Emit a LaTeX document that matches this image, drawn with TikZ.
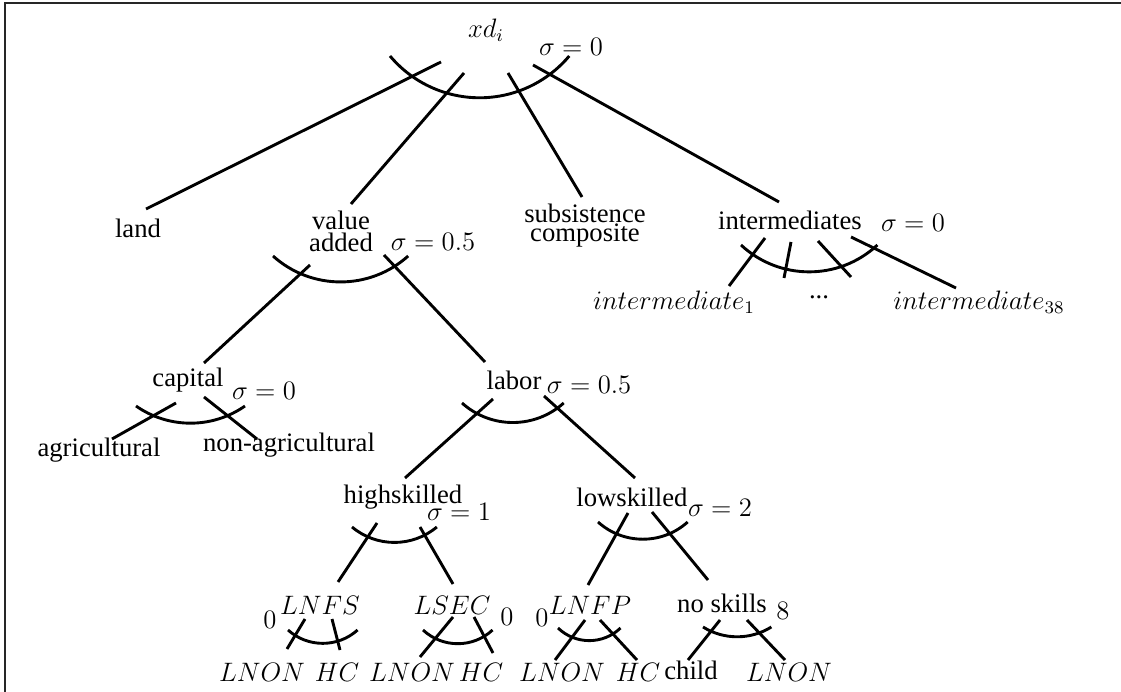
\documentclass[tikz,border=0pt,12pt]{standalone}
\usepackage{fontspec}
\setmainfont{Liberation Serif}

\begin{document}
\begin{tikzpicture}[x=0.45pt, y=-0.45pt,
    every node/.style={inner sep=0pt, font=\fontsize{12}{14}\selectfont},
    nest/.style={line width=1.3pt},
    frame/.style={line width=0.7pt, black!85}]
  \useasboundingbox (0,0) rectangle (1121,692);
  \draw[frame] (5,692) -- (5,3) -- (1121,3);

  % level 1
  \node (xd) at (486,30) {$xd_i$};
  \node (sxd) at (571,47) {$\sigma=0$};
  \node (land) at (138,228) {land};
  \node[align=center, font=\fontsize{12}{10}\selectfont] (va) at (341,231) {value\\added};
  \node (sva) at (433,242) {$\sigma=0.5$};
  \node[align=center, font=\fontsize{12}{8.5}\selectfont] (sub) at (585,226) {subsistence\\composite};
  \node (int) at (790,220) {intermediates};
  \node (sint) at (913,223) {$\sigma=0$};
  \node (int1) at (674,302) {$intermediate_1$};
  \node (dots) at (819,297) {...};
  \node (int38) at (979,302) {$intermediate_{38}$};
  \coordinate (m1) at (784,278);
  \coordinate (m2) at (851,277);

  % capital and labor
  \node (cap) at (188,380) {capital};
  \node (scap) at (264,391) {$\sigma=0$};
  \node (agri) at (99,450) {agricultural};
  \node (nonagri) at (289,445) {non-agricultural};
  \node (labor) at (514,380) {labor};
  \node (slab) at (589,385) {$\sigma=0.5$};
  \node (high) at (403,497) {highskilled};
  \node (shigh) at (459,512) {$\sigma=1$};
  \node (low) at (632,497) {lowskilled};
  \node (slow) at (720,508) {$\sigma=2$};

  % skill groups
  \node (lnfs) at (320,605) {$LNFS$};
  \node (slnfs) at (270,620) {$0$};
  \node (lsec) at (452,605) {$LSEC$};
  \node (slsec) at (507,617) {$0$};
  \node (lnfp) at (590,605) {$LNFP$};
  \node (slnfp) at (542,618) {$0$};
  \node (nosk) at (722,603) {no skills};
  \node (snosk) at (783,611) {$8$};
  \node (lnon1) at (262,672) {$LNON$};
  \node (hc1) at (337,672) {$HC$};
  \node (lnon2) at (412,672) {$LNON$};
  \node (hc2) at (481,672) {$HC$};
  \node (lnon3) at (562,672) {$LNON$};
  \node (hc3) at (638,672) {$HC$};
  \node (child) at (691,670) {child};
  \node (lnon4) at (789,672) {$LNON$};

  % branches
  \draw[nest] ([shift={(-45,32)}]xd.center) -- ([shift={(8,-19)}]land.center);
  \draw[nest] ([shift={(-22,43)}]xd.center) -- ([shift={(10,-27)}]va.center);
  \draw[nest] ([shift={(22,43)}]xd.center) -- ([shift={(-3,-29)}]sub.center);
  \draw[nest] ([shift={(47,35)}]xd.center) -- ([shift={(-11,-18)}]int.center);
  \draw[nest] ([shift={(-31,34)}]va.center) -- ([shift={(16,-17)}]cap.center);
  \draw[nest] ([shift={(43,24)}]va.center) -- ([shift={(-29,-18)}]labor.center);
  \draw[nest] ([shift={(-25,18)}]int.center) -- ([shift={(55,-16)}]int1.center);
  \draw[nest] ([shift={(1,22)}]int.center) -- (m1);
  \draw[nest] ([shift={(28,21)}]int.center) -- (m2);
  \draw[nest] ([shift={(61,17)}]int.center) -- ([shift={(-23,-14)}]int38.center);
  \draw[nest] ([shift={(-12,23)}]cap.center) -- ([shift={(13,-11)}]agri.center);
  \draw[nest] ([shift={(16,17)}]cap.center) -- ([shift={(-32,-6)}]nonagri.center);
  \draw[nest] ([shift={(-21,19)}]labor.center) -- ([shift={(2,-19)}]high.center);
  \draw[nest] ([shift={(30,16)}]labor.center) -- ([shift={(3,-19)}]low.center);
  \draw[nest] ([shift={(-26,26)}]high.center) -- ([shift={(18,-23)}]lnfs.center);
  \draw[nest] ([shift={(17,30)}]high.center) -- ([shift={(1,-21)}]lsec.center);
  \draw[nest] ([shift={(-4,16)}]low.center) -- ([shift={(-2,-20)}]lnfp.center);
  \draw[nest] ([shift={(20,15)}]low.center) -- ([shift={(-14,-23)}]nosk.center);
  \draw[nest] ([shift={(-15,14)}]lnfs.center) -- ([shift={(25,-23)}]lnon1.center);
  \draw[nest] ([shift={(12,14)}]lnfs.center) -- ([shift={(3,-22)}]hc1.center);
  \draw[nest] ([shift={(1,12)}]lsec.center) -- ([shift={(8,-15)}]lnon2.center);
  \draw[nest] ([shift={(22,12)}]lsec.center) -- ([shift={(12,-19)}]hc2.center);
  \draw[nest] ([shift={(-5,15)}]lnfp.center) -- ([shift={(-7,-12)}]lnon3.center);
  \draw[nest] ([shift={(10,15)}]lnfp.center) -- ([shift={(-1,-12)}]hc3.center);
  \draw[nest] ([shift={(-2,17)}]nosk.center) -- ([shift={(-3,-10)}]child.center);
  \draw[nest] ([shift={(25,17)}]nosk.center) -- ([shift={(-4,-12)}]lnon4.center);

  % substitution arcs
  \draw[nest] ([shift={(-96,26)}]xd.center) arc[start angle=140, end angle=40, radius=117];
  \draw[nest] ([shift={(-68,25)}]va.center) arc[start angle=132, end angle=48, radius=101];
  \draw[nest] ([shift={(-49,25)}]int.center) arc[start angle=133, end angle=47, radius=100];
  \draw[nest] ([shift={(-52,26)}]cap.center) arc[start angle=125, end angle=55, radius=95];
  \draw[nest] ([shift={(-52,23)}]labor.center) arc[start angle=132, end angle=48, radius=76];
  \draw[nest] ([shift={(-51,30)}]high.center) arc[start angle=130, end angle=50, radius=66];
  \draw[nest] ([shift={(-34,25)}]low.center) arc[start angle=132, end angle=48, radius=67];
  \draw[nest] ([shift={(-32,25)}]lnfs.center) arc[start angle=132, end angle=48, radius=52];
  \draw[nest] ([shift={(-29,25)}]lsec.center) arc[start angle=133, end angle=47, radius=51];
  \draw[nest] ([shift={(-32,23)}]lnfp.center) arc[start angle=134, end angle=46, radius=45];
  \draw[nest] ([shift={(-19,24)}]nosk.center) arc[start angle=122, end angle=58, radius=64.5];
\end{tikzpicture}
\end{document}
